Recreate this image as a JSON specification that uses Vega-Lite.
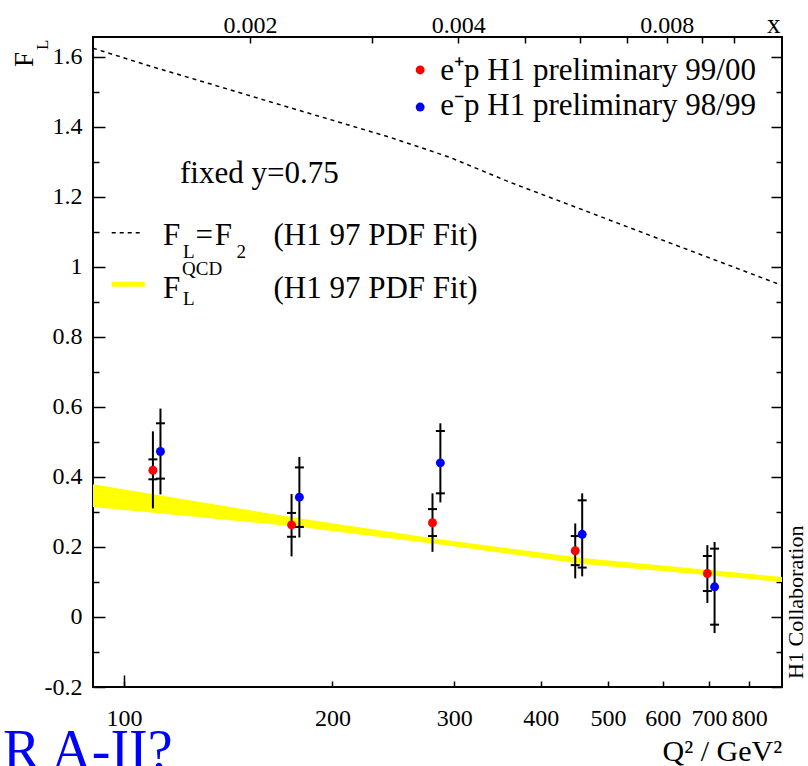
{
  "$schema": "https://vega.github.io/schema/vega-lite/v6.json",
  "width": 689,
  "height": 650,
  "autosize": {"type": "none"},
  "padding": {"left": 93, "top": 37, "right": 26, "bottom": 79},
  "background": "white",
  "config": {
    "view": {"stroke": "black", "strokeWidth": 2},
    "font": "Liberation Serif",
    "axis": {
      "labelFont": "Liberation Serif",
      "labelFontSize": 24,
      "labelColor": "black",
      "titleFont": "Liberation Serif",
      "titleColor": "black",
      "titleFontWeight": "normal",
      "tickColor": "black",
      "tickWidth": 1.5,
      "domain": false,
      "grid": false
    }
  },
  "resolve": {"axis": {"x": "independent"}},
  "datasets": {
    "points": [
      {"series": "e+p", "q": 110.1, "f": 0.419, "lo": 0.31, "hi": 0.53, "slo": 0.393, "shi": 0.45},
      {"series": "e+p", "q": 174.6, "f": 0.263, "lo": 0.173, "hi": 0.351, "slo": 0.229, "shi": 0.297},
      {"series": "e+p", "q": 279, "f": 0.269, "lo": 0.186, "hi": 0.353, "slo": 0.231, "shi": 0.308},
      {"series": "e+p", "q": 448.5, "f": 0.189, "lo": 0.11, "hi": 0.267, "slo": 0.148, "shi": 0.231},
      {"series": "e+p", "q": 696, "f": 0.124, "lo": 0.04, "hi": 0.205, "slo": 0.074, "shi": 0.174},
      {"series": "e-p", "q": 112.9, "f": 0.4725, "lo": 0.35, "hi": 0.595, "slo": 0.395, "shi": 0.553},
      {"series": "e-p", "q": 179.2, "f": 0.342, "lo": 0.227, "hi": 0.457, "slo": 0.257, "shi": 0.427},
      {"series": "e-p", "q": 286.4, "f": 0.44, "lo": 0.327, "hi": 0.553, "slo": 0.353, "shi": 0.531},
      {"series": "e-p", "q": 459, "f": 0.236, "lo": 0.116, "hi": 0.353, "slo": 0.141, "shi": 0.333},
      {"series": "e-p", "q": 712.9, "f": 0.086, "lo": -0.046, "hi": 0.214, "slo": -0.022, "shi": 0.195}
    ],
    "band": [
      {"q": 90.21, "lo": 0.314, "hi": 0.379},
      {"q": 128.8, "lo": 0.285, "hi": 0.328},
      {"q": 179.6, "lo": 0.257, "hi": 0.281},
      {"q": 286, "lo": 0.207, "hi": 0.222},
      {"q": 456, "lo": 0.152, "hi": 0.169},
      {"q": 636, "lo": 0.126, "hi": 0.142},
      {"q": 892.1, "lo": 0.1, "hi": 0.114}
    ],
    "f2": [
      {"q": 90.21, "f": 1.624},
      {"q": 109.0, "f": 1.5731},
      {"q": 133.1, "f": 1.5223},
      {"q": 162.5, "f": 1.4711},
      {"q": 198.5, "f": 1.4203},
      {"q": 242.4, "f": 1.3694},
      {"q": 267.8, "f": 1.341},
      {"q": 295.9, "f": 1.312},
      {"q": 361.3, "f": 1.2409},
      {"q": 441.1, "f": 1.176},
      {"q": 538.6, "f": 1.1109},
      {"q": 657.6, "f": 1.046},
      {"q": 802.9, "f": 0.9811},
      {"q": 892.1, "f": 0.9469}
    ],
    "legendDots": [
      {"series": "e+p", "q": 267.8, "f": 1.562},
      {"series": "e-p", "q": 267.8, "f": 1.456}
    ],
    "legendLines": [
      {"kind": "F2", "q": 96.0, "q2": 105.5, "f": 1.0971},
      {"kind": "QCD", "q": 96.0, "q2": 107.2, "f": 0.9497}
    ],
    "notes": [
      {"role": "big", "text": "e⁺p H1 preliminary 99/00", "q": 286.3, "f": 1.533},
      {"role": "big", "text": "e⁻p H1 preliminary 98/99", "q": 286.3, "f": 1.433},
      {"role": "big", "text": "fixed y=0.75", "q": 120.5, "f": 1.239},
      {"role": "big", "text": "F", "q": 113.9, "f": 1.062},
      {"role": "big", "text": "=", "q": 126.9, "f": 1.062},
      {"role": "big", "text": "F", "q": 135.2, "f": 1.062},
      {"role": "big", "text": "(H1 97 PDF Fit)", "q": 164.4, "f": 1.062},
      {"role": "big", "text": "F", "q": 113.9, "f": 0.9097},
      {"role": "big", "text": "(H1 97 PDF Fit)", "q": 164.4, "f": 0.9097},
      {"role": "small", "text": "L", "q": 121.7, "f": 1.0249},
      {"role": "small", "text": "2", "q": 145.4, "f": 1.0257},
      {"role": "small", "text": "L", "q": 121.7, "f": 0.8906},
      {"role": "small", "text": "QCD", "q": 121.3, "f": 0.9763},
      {"role": "ylab", "text": "F", "q": 73.9, "f": 1.5706},
      {"role": "ylabsub", "text": "L", "q": 77.67, "f": 1.619},
      {"role": "credit", "text": "H1 Collaboration", "q": 935, "f": 0.042},
      {"role": "banner", "text": "R A-II?", "q": 66.9, "f": -0.435}
    ],
    "frame": [
      {"q": 152, "f": 0}
    ]
  },
  "layer": [
    {
      "data": {"name": "band"},
      "mark": {"type": "area", "color": "#ffff00", "opacity": 1},
      "encoding": {
        "x": {
          "field": "q", "type": "quantitative",
          "scale": {"type": "log", "domain": [90.21, 892.1], "nice": false},
          "axis": {
            "orient": "bottom",
            "values": [100, 200, 300, 400, 500, 600, 700, 800],
            "labelExpr": "format(datum.value, 'd')",
            "labelOverlap": false,
            "labelFlush": false,
            "labelBound": false,
            "labelBaseline": "alphabetic",
            "labelAlign": "center",
            "labelAngle": 0,
            "tickSize": -6,
            "labelPadding": 44,
            "title": "Q² / GeV²",
            "titleFontSize": 30,
            "titleAnchor": "end",
            "titleAlign": "right",
            "titleBaseline": "alphabetic",
            "titleX": 688.7,
            "titleY": 73
          }
        },
        "y": {
          "field": "lo", "type": "quantitative",
          "scale": {"domain": [-0.2, 1.656], "nice": false, "zero": false},
          "axis": {
            "orient": "left",
            "title": null,
            "values": [-0.2, -0.1, 0, 0.1, 0.2, 0.3, 0.4, 0.5, 0.6, 0.7, 0.8, 0.9, 1, 1.1, 1.2, 1.3, 1.4, 1.5, 1.6],
            "labelExpr": "abs(datum.value*5 - round(datum.value*5)) < 0.001 ? replace(format(datum.value, '~g'), '\u2212', '-') : ''",
            "labelOverlap": false,
            "labelFlush": false,
            "labelBound": false,
            "tickSize": {"condition": {"test": "abs(datum.value*5 - round(datum.value*5)) < 0.001", "value": -12}, "value": -6},
            "labelPadding": 23
          }
        },
        "y2": {"field": "hi"}
      }
    },
    {
      "data": {"name": "f2"},
      "mark": {"type": "line", "color": "black", "strokeWidth": 1.5, "strokeDash": [4, 4]},
      "encoding": {
        "x": {"field": "q", "type": "quantitative", "axis": null},
        "y": {"field": "f", "type": "quantitative", "axis": null}
      }
    },
    {
      "mark": {"type": "rule", "color": "black", "strokeWidth": 1.5},
      "encoding": {
        "y": {"datum": 0, "type": "quantitative", "axis": null}
      }
    },
    {
      "data": {"name": "points"},
      "mark": {"type": "rule", "color": "black", "strokeWidth": 2},
      "encoding": {
        "x": {
          "field": "q", "type": "quantitative",
          "axis": {"orient": "bottom", "values": [100], "labels": false, "tickSize": -12, "title": null}
        },
        "y": {"field": "lo", "type": "quantitative", "axis": null},
        "y2": {"field": "hi"}
      }
    },
    {
      "data": {"name": "points"},
      "mark": {"type": "tick", "orient": "horizontal", "color": "black", "size": 9, "thickness": 2, "opacity": 1},
      "encoding": {
        "x": {"field": "q", "type": "quantitative", "axis": null},
        "y": {"field": "slo", "type": "quantitative", "axis": null}
      }
    },
    {
      "data": {"name": "points"},
      "mark": {"type": "tick", "orient": "horizontal", "color": "black", "size": 9, "thickness": 2, "opacity": 1},
      "encoding": {
        "x": {"field": "q", "type": "quantitative", "axis": null},
        "y": {"field": "shi", "type": "quantitative", "axis": null}
      }
    },
    {
      "data": {"name": "points"},
      "mark": {"type": "point", "shape": "circle", "filled": true, "size": 80, "opacity": 1},
      "encoding": {
        "x": {"field": "q", "type": "quantitative", "axis": null},
        "y": {"field": "f", "type": "quantitative", "axis": null},
        "color": {"field": "series", "type": "nominal", "scale": {"domain": ["e+p", "e-p"], "range": ["#ff0000", "#0000ff"]}, "legend": null}
      }
    },
    {
      "data": {"name": "legendDots"},
      "mark": {"type": "point", "shape": "circle", "filled": true, "size": 80, "opacity": 1},
      "encoding": {
        "x": {"field": "q", "type": "quantitative", "axis": null},
        "y": {"field": "f", "type": "quantitative", "axis": null},
        "color": {"field": "series", "type": "nominal", "legend": null}
      }
    },
    {
      "data": {"name": "legendLines"},
      "transform": [{"filter": "datum.kind == 'F2'"}],
      "mark": {"type": "rule", "color": "black", "strokeWidth": 1.5, "strokeDash": [4, 4]},
      "encoding": {
        "x": {"field": "q", "type": "quantitative", "axis": null},
        "x2": {"field": "q2"},
        "y": {"field": "f", "type": "quantitative", "axis": null}
      }
    },
    {
      "data": {"name": "legendLines"},
      "transform": [{"filter": "datum.kind == 'QCD'"}],
      "mark": {"type": "rule", "color": "#ffff00", "strokeWidth": 5},
      "encoding": {
        "x": {"field": "q", "type": "quantitative", "axis": null},
        "x2": {"field": "q2"},
        "y": {"field": "f", "type": "quantitative", "axis": null}
      }
    },
    {
      "data": {"name": "notes"},
      "transform": [{"filter": "datum.role == 'big'"}],
      "mark": {"type": "text", "font": "Liberation Serif", "fontSize": 31, "align": "left", "baseline": "alphabetic", "color": "black"},
      "encoding": {
        "x": {"field": "q", "type": "quantitative", "axis": null},
        "y": {"field": "f", "type": "quantitative", "axis": null},
        "text": {"field": "text"}
      }
    },
    {
      "data": {"name": "notes"},
      "transform": [{"filter": "datum.role == 'small'"}],
      "mark": {"type": "text", "font": "Liberation Serif", "fontSize": 19, "align": "left", "baseline": "alphabetic", "color": "black"},
      "encoding": {
        "x": {"field": "q", "type": "quantitative", "axis": null},
        "y": {"field": "f", "type": "quantitative", "axis": null},
        "text": {"field": "text"}
      }
    },
    {
      "data": {"name": "notes"},
      "transform": [{"filter": "datum.role == 'ylab'"}],
      "mark": {"type": "text", "font": "Liberation Serif", "fontSize": 27, "align": "left", "baseline": "alphabetic", "angle": 270, "color": "black"},
      "encoding": {
        "x": {"field": "q", "type": "quantitative", "axis": null},
        "y": {"field": "f", "type": "quantitative", "axis": null},
        "text": {"field": "text"}
      }
    },
    {
      "data": {"name": "notes"},
      "transform": [{"filter": "datum.role == 'ylabsub'"}],
      "mark": {"type": "text", "font": "Liberation Serif", "fontSize": 17, "align": "left", "baseline": "alphabetic", "angle": 270, "color": "black"},
      "encoding": {
        "x": {"field": "q", "type": "quantitative", "axis": null},
        "y": {"field": "f", "type": "quantitative", "axis": null},
        "text": {"field": "text"}
      }
    },
    {
      "data": {"name": "notes"},
      "transform": [{"filter": "datum.role == 'credit'"}],
      "mark": {"type": "text", "font": "Liberation Serif", "fontSize": 22, "align": "center", "baseline": "middle", "angle": 270, "color": "black"},
      "encoding": {
        "x": {"field": "q", "type": "quantitative", "axis": null},
        "y": {"field": "f", "type": "quantitative", "axis": null},
        "text": {"field": "text"}
      }
    },
    {
      "data": {"name": "notes"},
      "transform": [{"filter": "datum.role == 'banner'"}],
      "mark": {"type": "text", "font": "Liberation Serif", "fontSize": 56, "align": "left", "baseline": "alphabetic", "color": "#0000ff"},
      "encoding": {
        "x": {"field": "q", "type": "quantitative", "axis": null},
        "y": {"field": "f", "type": "quantitative", "axis": null},
        "text": {"field": "text"}
      }
    },
    {
      "data": {"name": "frame"},
      "mark": {"type": "point", "opacity": 0},
      "encoding": {
        "x": {
          "field": "q", "type": "quantitative",
          "axis": {
            "orient": "top",
            "values": [152, 228, 304, 380, 456, 532, 608, 684, 760],
            "labelExpr": "datum.value == 152 ? '0.002' : datum.value == 304 ? '0.004' : datum.value == 608 ? '0.008' : ''",
            "labelOverlap": false,
            "labelFlush": false,
            "labelBound": false,
            "tickSize": -6,
            "labelPadding": 11,
            "labelBaseline": "alphabetic",
            "title": "x",
            "titleFontSize": 27,
            "titleAnchor": "end",
            "titleAlign": "right",
            "titleBaseline": "alphabetic",
            "titleAngle": 0,
            "titleX": 687,
            "titleY": -5
          }
        },
        "y": {
          "field": "f", "type": "quantitative",
          "axis": {
            "orient": "right",
            "title": null,
            "labels": false,
            "values": [-0.2, -0.1, 0, 0.1, 0.2, 0.3, 0.4, 0.5, 0.6, 0.7, 0.8, 0.9, 1, 1.1, 1.2, 1.3, 1.4, 1.5, 1.6],
            "tickSize": {"condition": {"test": "abs(datum.value*5 - round(datum.value*5)) < 0.001", "value": -11}, "value": -6}
          }
        }
      }
    }
  ]
}
